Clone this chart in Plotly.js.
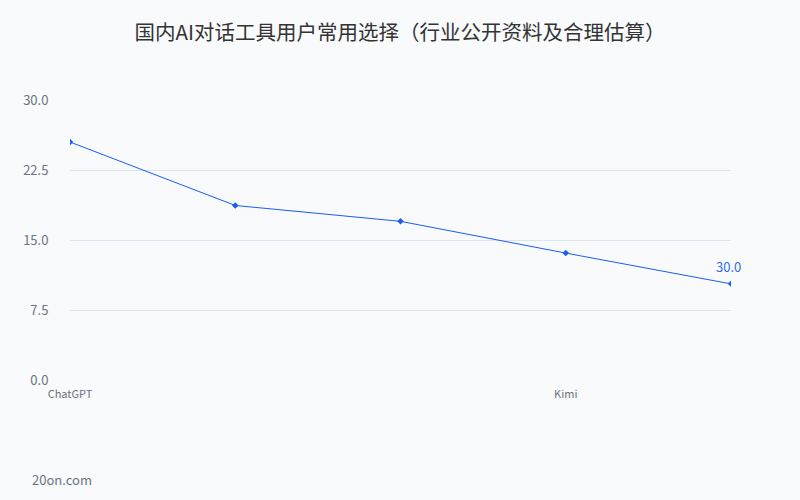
<!DOCTYPE html>
<html>
<head>
<meta charset="utf-8">
<script src="https://cdn.plot.ly/plotly-3.0.1.min.js"></script>
<style>html,body{margin:0;padding:0;background:#f8fafc;}#chart{width:800px;height:500px;}</style>
</head>
<body>
<div id="chart"></div>
<script>
const categories = ["ChatGPT", "豆包", "文心一言", "Kimi", "通义千问"];
const values = [25.5, 18.7, 17.0, 13.6, 10.3];
const shownTicks = ["ChatGPT", "Kimi"];
const lastLabel = "30.0";

const font = '"Noto Sans CJK SC", "Noto Sans", sans-serif';
const trace = {
  x: categories,
  y: values,
  type: 'scatter',
  mode: 'lines+markers',
  line: {color: '#1a5cf5', width: 1},
  marker: {symbol: 'diamond', size: 5, color: '#1a5cf5'},
  hoverinfo: 'x+y'
};
const layout = {
  width: 800, height: 500,
  paper_bgcolor: '#f8fafc', plot_bgcolor: '#f8fafc',
  margin: {l: 70, r: 69, t: 100, b: 120},
  showlegend: false,
  font: {family: font, color: '#6b7280'},
  title: {text: '国内AI对话工具用户常用选择（行业公开资料及合理估算）', font: {family: font, size: 20.5, color: '#333333'}, x: 0.5, xanchor: 'center', y: 0.935, yanchor: 'middle'},
  xaxis: {
    type: 'category', range: [0, 4],
    tickvals: shownTicks, ticktext: shownTicks,
    showgrid: false, zeroline: false, showline: false,
    ticks: 'outside', ticklen: 4, tickcolor: 'rgba(0,0,0,0)',
    tickfont: {family: font, size: 11, color: '#6b7280'}
  },
  yaxis: {
    range: [0, 30], tick0: 0, dtick: 7.5, tickformat: '.1f',
    showgrid: true, gridcolor: '#dde3f0', gridwidth: 1,
    zeroline: false, showline: false,
    ticks: 'outside', ticklen: 18, tickcolor: 'rgba(0,0,0,0)',
    tickfont: {family: font, size: 13, color: '#6b7280'}
  },
  annotations: [
    {x: categories[categories.length - 1], y: values[values.length - 1], xref: 'x', yref: 'y',
     text: lastLabel, showarrow: false, yshift: 17, xshift: -3,
     font: {family: font, size: 13, color: '#2e6bf0'}},
    {xref: 'paper', yref: 'paper', x: -0.06, y: -0.357, xanchor: 'left', yanchor: 'middle',
     text: '20on.com', showarrow: false, font: {family: font, size: 13, color: '#6b7280'}}
  ]
};
Plotly.newPlot('chart', [trace], layout, {displayModeBar: false, staticPlot: true});
</script>
</body>
</html>
